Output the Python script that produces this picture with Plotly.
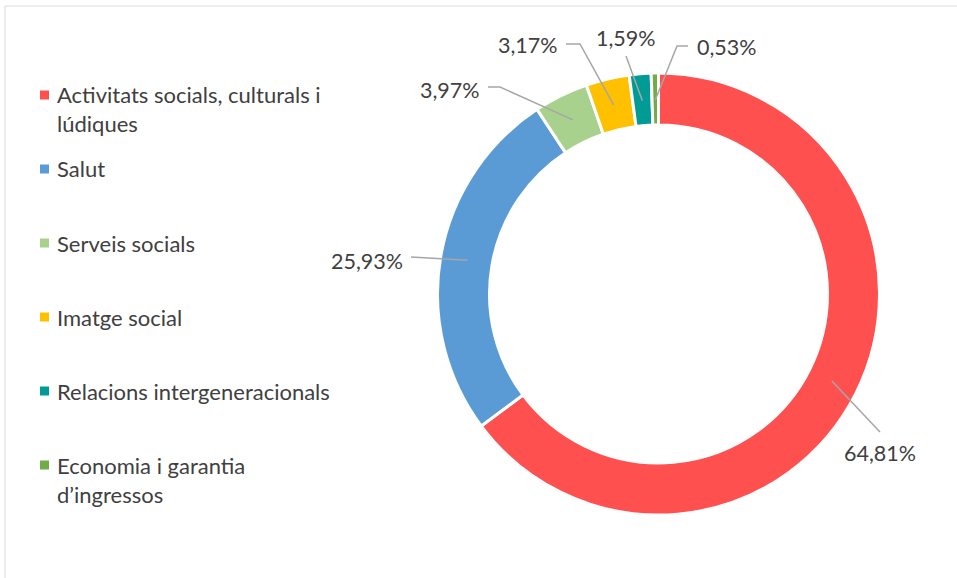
import math
import plotly.graph_objects as go

# data
labels = ["Activitats socials, culturals i<br>lúdiques", "Salut", "Serveis socials",
          "Imatge social", "Relacions intergeneracionals", "Economia i garantia<br>d’ingressos"]
values = [64.81, 25.93, 3.97, 3.17, 1.59, 0.53]
colors = ["#FF5050", "#5B9BD5", "#A9D18E", "#FFC000", "#009B95", "#70AD47"]

W, H = 957, 578
CX, CY, R_OUT, R_IN = 658.5, 294, 221, 169
R_LEAD = 194

# label placement (px) and leader-line elbows
label_pos = [(880, 453), (367, 261), (450, 90), (528, 45), (626, 38), (727, 47)]
leader_out = [[(880, 432)], [(411, 257)], [(488, 87), (500, 87)], [(566, 44), (580, 44)],
              [(626, 56)], [(688, 46), (677, 46)]]
legend_y = [95, 169, 243, 317, 391, 465]

FONT = "Lato"
LABEL_SIZE = 21.5
LEGEND_SIZE = 22


def px(x):
    return x / W


def py(y):
    return 1 - y / H


fig = go.Figure()
fig.add_trace(go.Pie(
    labels=labels, values=values, hole=R_IN / R_OUT, sort=False,
    direction="clockwise", rotation=0, textinfo="none",
    marker=dict(colors=colors, line=dict(color="white", width=3)),
    domain=dict(x=[px(CX - R_OUT), px(CX + R_OUT)], y=[py(CY + R_OUT), py(CY - R_OUT)]),
    showlegend=False, hoverinfo="label+percent",
))

shapes = []
annotations = []
total = sum(values)
cum = 0
for i, v in enumerate(values):
    ang = math.radians((cum + v / 2) / total * 360)
    cum += v
    ix = CX + R_LEAD * math.sin(ang)
    iy = CY - R_LEAD * math.cos(ang)
    pts = leader_out[i] + [(ix, iy)]
    path = "M " + " L ".join(f"{px(x)},{py(y)}" for x, y in pts)
    shapes.append(dict(type="path", path=path, xref="paper", yref="paper",
                       line=dict(color="#A6A6A6", width=1.5), layer="above"))
    lx, ly = label_pos[i]
    annotations.append(dict(x=px(lx), y=py(ly), xref="paper", yref="paper",
                            text=f"{v:.2f}%".replace(".", ","), showarrow=False,
                            font=dict(family=FONT, size=LABEL_SIZE, color="#404040"),
                            xanchor="center", yanchor="middle"))

# legend drawn by hand
for i, lab in enumerate(labels):
    y0 = legend_y[i]
    shapes.append(dict(type="rect", xref="paper", yref="paper",
                       x0=px(40), x1=px(49), y0=py(y0 - 4.5), y1=py(y0 + 4.5),
                       fillcolor=colors[i], line=dict(width=0)))
    for j, line in enumerate(lab.split("<br>")):
        annotations.append(dict(x=px(55), y=py(y0 + 29 * j), xref="paper", yref="paper",
                                text=line, showarrow=False, xanchor="left", yanchor="middle",
                                font=dict(family=FONT, size=LEGEND_SIZE, color="#404040")))

# chart border (left and top edges visible)
shapes.append(dict(type="path", xref="paper", yref="paper",
                   path=f"M {px(5)},0 L {px(5)},{py(6)} L 1,{py(6)}",
                   line=dict(color="#D9D9D9", width=1)))

fig.update_layout(
    width=W, height=H, margin=dict(l=0, r=0, t=0, b=0),
    paper_bgcolor="white", plot_bgcolor="white",
    shapes=shapes, annotations=annotations,
)
fig.write_html("out.html", config={"displayModeBar": False},
               post_script="document.body.style.margin = '0';")
